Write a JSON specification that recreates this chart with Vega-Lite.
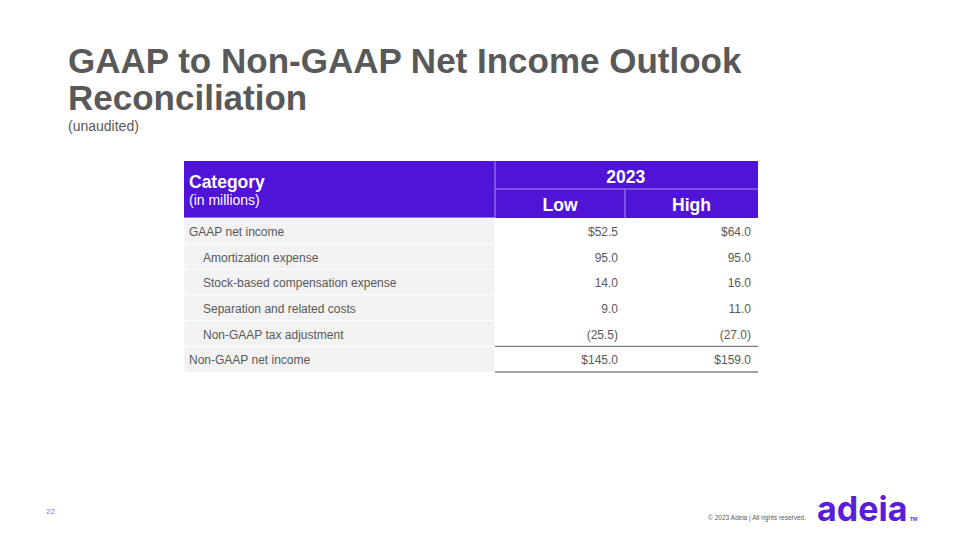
{
  "$schema": "https://vega.github.io/schema/vega-lite/v6.json",
  "width": 960,
  "height": 540,
  "autosize": "none",
  "padding": 0,
  "background": "white",
  "config": {"view": {"stroke": null}, "font": "Liberation Sans"},
  "title": {
    "text": ["GAAP to Non-GAAP Net Income Outlook", "Reconciliation"],
    "subtitle": "(unaudited)",
    "anchor": "start",
    "frame": "group",
    "orient": "top",
    "offset": -134,
    "dx": 68,
    "font": "Liberation Sans",
    "fontSize": 35,
    "fontWeight": "bold",
    "color": "#595959",
    "lineHeight": 37,
    "subtitleFont": "Liberation Sans",
    "subtitleFontSize": 14,
    "subtitleColor": "#595959",
    "subtitlePadding": 3
  },
  "datasets": {
    "rows": [
      {"category": "GAAP net income", "type": "base", "Low": 52.5, "High": 64.0},
      {"category": "Amortization expense", "type": "adjustment", "Low": 95.0, "High": 95.0},
      {"category": "Stock-based compensation expense", "type": "adjustment", "Low": 14.0, "High": 16.0},
      {"category": "Separation and related costs", "type": "adjustment", "Low": 9.0, "High": 11.0},
      {"category": "Non-GAAP tax adjustment", "type": "adjustment", "Low": -25.5, "High": -27.0},
      {"category": "Non-GAAP net income", "type": "total", "Low": 145.0, "High": 159.0}
    ],
    "header": [
      {"label": "Category", "note": "(in millions)", "col0": 0, "col1": 1, "row0": 0, "row1": 2},
      {"label": "2023", "col0": 1, "col1": 3, "row0": 0, "row1": 1},
      {"label": "Low", "col0": 1, "col1": 2, "row0": 1, "row1": 2},
      {"label": "High", "col0": 2, "col1": 3, "row0": 1, "row1": 2}
    ],
    "footer": [
      {"item": "page", "text": "22"},
      {"item": "copyright", "text": "© 2023 Adeia | All rights reserved."},
      {"item": "logo", "text": "adeia"},
      {"item": "tm", "text": "TM"}
    ]
  },
  "resolve": {"scale": {"x": "independent", "y": "independent"}},
  "layer": [
    {
      "data": {"name": "header"},
      "mark": {"type": "rect", "fill": "#5014D6"},
      "encoding": {
        "x": {"field": "col0", "type": "quantitative", "axis": null, "scale": {"domain": [0, 1, 2, 3], "range": [184, 495, 625, 758], "zero": false, "nice": false}},
        "x2": {"field": "col1"},
        "y": {"field": "row0", "type": "quantitative", "axis": null, "scale": {"domain": [0, 1, 2], "range": [161, 189, 218], "zero": false, "nice": false}},
        "y2": {"field": "row1"}
      }
    },
    {
      "data": {"name": "header"},
      "transform": [{"filter": "datum.col0 > 0"}],
      "mark": {"type": "rule", "color": "#A68CF0", "strokeWidth": 1},
      "encoding": {
        "x": {"field": "col0", "type": "quantitative", "axis": null, "scale": {"domain": [0, 1, 2, 3], "range": [184, 495, 625, 758], "zero": false, "nice": false}},
        "y": {"field": "row0", "type": "quantitative", "axis": null, "scale": {"domain": [0, 1, 2], "range": [161, 189, 218], "zero": false, "nice": false}},
        "y2": {"field": "row1"}
      }
    },
    {
      "data": {"name": "header"},
      "transform": [{"filter": "datum.row0 > 0"}],
      "mark": {"type": "rule", "color": "#A68CF0", "strokeWidth": 1},
      "encoding": {
        "x": {"field": "col0", "type": "quantitative", "axis": null, "scale": {"domain": [0, 1, 2, 3], "range": [184, 495, 625, 758], "zero": false, "nice": false}},
        "x2": {"field": "col1"},
        "y": {"field": "row0", "type": "quantitative", "axis": null, "scale": {"domain": [0, 1, 2], "range": [161, 189, 218], "zero": false, "nice": false}}
      }
    },
    {
      "data": {"name": "header"},
      "transform": [{"filter": "datum.col0 == 0"}],
      "mark": {"type": "text", "align": "left", "baseline": "alphabetic", "dx": 5, "dy": 27, "fontSize": 17.5, "fontWeight": "bold", "color": "#FFFFFF"},
      "encoding": {
        "x": {"field": "col0", "type": "quantitative", "axis": null, "scale": {"domain": [0, 1, 2, 3], "range": [184, 495, 625, 758], "zero": false, "nice": false}},
        "y": {"field": "row0", "type": "quantitative", "axis": null, "scale": {"domain": [0, 1, 2], "range": [161, 189, 218], "zero": false, "nice": false}},
        "text": {"field": "label"}
      }
    },
    {
      "data": {"name": "header"},
      "transform": [{"filter": "datum.col0 == 0"}],
      "mark": {"type": "text", "align": "left", "baseline": "alphabetic", "dx": 5, "dy": 44, "fontSize": 14, "color": "#FFFFFF"},
      "encoding": {
        "x": {"field": "col0", "type": "quantitative", "axis": null, "scale": {"domain": [0, 1, 2, 3], "range": [184, 495, 625, 758], "zero": false, "nice": false}},
        "y": {"field": "row0", "type": "quantitative", "axis": null, "scale": {"domain": [0, 1, 2], "range": [161, 189, 218], "zero": false, "nice": false}},
        "text": {"field": "note"}
      }
    },
    {
      "data": {"name": "header"},
      "transform": [{"filter": "datum.col0 > 0"}],
      "mark": {"type": "text", "align": "center", "baseline": "alphabetic", "dy": 21.5, "fontSize": 17.5, "fontWeight": "bold", "color": "#FFFFFF"},
      "encoding": {
        "x": {"field": "label", "type": "nominal", "axis": null, "scale": {"type": "point", "domain": ["Low", "2023", "High"], "range": [560, 691.5], "padding": 0}},
        "y": {"field": "row0", "type": "quantitative", "axis": null, "scale": {"domain": [0, 1, 2], "range": [161, 189, 218], "zero": false, "nice": false}},
        "text": {"field": "label"}
      }
    },
    {
      "data": {"name": "rows"},
      "mark": {"type": "rect", "fill": "#F2F2F2", "stroke": "#FFFFFF", "strokeWidth": 0.8},
      "encoding": {
        "x": {"datum": 0, "type": "quantitative", "axis": null, "scale": {"domain": [0, 1, 2, 3], "range": [184, 495, 625, 758], "zero": false, "nice": false}},
        "x2": {"datum": 1},
        "y": {"field": "category", "type": "nominal", "axis": null, "sort": null, "scale": {"type": "band", "domain": ["GAAP net income", "Amortization expense", "Stock-based compensation expense", "Separation and related costs", "Non-GAAP tax adjustment", "Non-GAAP net income"], "range": [218, 372], "paddingInner": 0, "paddingOuter": 0}}
      }
    },
    {
      "data": {"name": "rows"},
      "transform": [{"filter": "datum.type != 'adjustment'"}],
      "mark": {"type": "text", "align": "left", "baseline": "middle", "dx": 5, "dy": 1, "fontSize": 12, "color": "#595959"},
      "encoding": {
        "x": {"datum": 0, "type": "quantitative", "axis": null, "scale": {"domain": [0, 1, 2, 3], "range": [184, 495, 625, 758], "zero": false, "nice": false}},
        "y": {"field": "category", "type": "nominal", "axis": null, "sort": null, "scale": {"type": "band", "domain": ["GAAP net income", "Amortization expense", "Stock-based compensation expense", "Separation and related costs", "Non-GAAP tax adjustment", "Non-GAAP net income"], "range": [218, 372], "paddingInner": 0, "paddingOuter": 0}},
        "text": {"field": "category"}
      }
    },
    {
      "data": {"name": "rows"},
      "transform": [{"filter": "datum.type == 'adjustment'"}],
      "mark": {"type": "text", "align": "left", "baseline": "middle", "dx": 19, "dy": 1, "fontSize": 12, "color": "#595959"},
      "encoding": {
        "x": {"datum": 0, "type": "quantitative", "axis": null, "scale": {"domain": [0, 1, 2, 3], "range": [184, 495, 625, 758], "zero": false, "nice": false}},
        "y": {"field": "category", "type": "nominal", "axis": null, "sort": null, "scale": {"type": "band", "domain": ["GAAP net income", "Amortization expense", "Stock-based compensation expense", "Separation and related costs", "Non-GAAP tax adjustment", "Non-GAAP net income"], "range": [218, 372], "paddingInner": 0, "paddingOuter": 0}},
        "text": {"field": "category"}
      }
    },
    {
      "data": {"name": "rows"},
      "transform": [{"filter": "datum.type == 'adjustment'"}, {"fold": ["Low", "High"], "as": ["column", "value"]}],
      "mark": {"type": "text", "align": "right", "baseline": "middle", "dy": 1, "fontSize": 12, "color": "#595959"},
      "encoding": {
        "x": {"field": "column", "type": "nominal", "axis": null, "scale": {"type": "point", "domain": ["Low", "High"], "range": [618, 751], "padding": 0}},
        "y": {"field": "category", "type": "nominal", "axis": null, "sort": null, "scale": {"type": "band", "domain": ["GAAP net income", "Amortization expense", "Stock-based compensation expense", "Separation and related costs", "Non-GAAP tax adjustment", "Non-GAAP net income"], "range": [218, 372], "paddingInner": 0, "paddingOuter": 0}},
        "text": {"field": "value", "type": "quantitative", "format": "(.1f"}
      }
    },
    {
      "data": {"name": "rows"},
      "transform": [{"filter": "datum.type != 'adjustment'"}, {"fold": ["Low", "High"], "as": ["column", "value"]}],
      "mark": {"type": "text", "align": "right", "baseline": "middle", "dy": 1, "fontSize": 12, "color": "#595959"},
      "encoding": {
        "x": {"field": "column", "type": "nominal", "axis": null, "scale": {"type": "point", "domain": ["Low", "High"], "range": [618, 751], "padding": 0}},
        "y": {"field": "category", "type": "nominal", "axis": null, "sort": null, "scale": {"type": "band", "domain": ["GAAP net income", "Amortization expense", "Stock-based compensation expense", "Separation and related costs", "Non-GAAP tax adjustment", "Non-GAAP net income"], "range": [218, 372], "paddingInner": 0, "paddingOuter": 0}},
        "text": {"field": "value", "type": "quantitative", "format": "$.1f"}
      }
    },
    {
      "data": {"name": "rows"},
      "transform": [{"filter": "datum.type == 'total'"}],
      "mark": {"type": "rule", "color": "#7A7A7A", "strokeWidth": 1.3},
      "encoding": {
        "x": {"datum": 1, "type": "quantitative", "axis": null, "scale": {"domain": [0, 1, 2, 3], "range": [184, 495, 625, 758], "zero": false, "nice": false}},
        "x2": {"datum": 3},
        "y": {"field": "category", "type": "nominal", "axis": null, "bandPosition": 0, "sort": null, "scale": {"type": "band", "domain": ["GAAP net income", "Amortization expense", "Stock-based compensation expense", "Separation and related costs", "Non-GAAP tax adjustment", "Non-GAAP net income"], "range": [218, 372], "paddingInner": 0, "paddingOuter": 0}}
      }
    },
    {
      "data": {"name": "rows"},
      "transform": [{"filter": "datum.type == 'total'"}],
      "mark": {"type": "rule", "color": "#A6A6A6", "strokeWidth": 2},
      "encoding": {
        "x": {"datum": 1, "type": "quantitative", "axis": null, "scale": {"domain": [0, 1, 2, 3], "range": [184, 495, 625, 758], "zero": false, "nice": false}},
        "x2": {"datum": 3},
        "y": {"field": "category", "type": "nominal", "axis": null, "bandPosition": 1, "sort": null, "scale": {"type": "band", "domain": ["GAAP net income", "Amortization expense", "Stock-based compensation expense", "Separation and related costs", "Non-GAAP tax adjustment", "Non-GAAP net income"], "range": [218, 372], "paddingInner": 0, "paddingOuter": 0}}
      }
    },
    {
      "data": {"name": "footer"},
      "transform": [{"filter": "datum.item == 'page'"}],
      "mark": {"type": "text", "align": "left", "baseline": "alphabetic", "fontSize": 8, "color": "#8A6CF0"},
      "encoding": {
        "x": {"field": "item", "type": "nominal", "axis": null, "scale": {"type": "point", "domain": ["page"], "range": [46, 46]}},
        "y": {"field": "item", "type": "nominal", "axis": null, "scale": {"type": "point", "domain": ["page"], "range": [514, 514]}},
        "text": {"field": "text"}
      }
    },
    {
      "data": {"name": "footer"},
      "transform": [{"filter": "datum.item == 'copyright'"}],
      "mark": {"type": "text", "align": "right", "baseline": "alphabetic", "fontSize": 6.5, "color": "#595959"},
      "encoding": {
        "x": {"field": "item", "type": "nominal", "axis": null, "scale": {"type": "point", "domain": ["copyright"], "range": [806, 806]}},
        "y": {"field": "item", "type": "nominal", "axis": null, "scale": {"type": "point", "domain": ["copyright"], "range": [520, 520]}},
        "text": {"field": "text"}
      }
    },
    {
      "data": {"name": "footer"},
      "transform": [{"filter": "datum.item == 'logo'"}],
      "mark": {"type": "text", "align": "left", "baseline": "alphabetic", "font": "Inter", "fontSize": 34, "fontWeight": "bold", "color": "#5A1EDB"},
      "encoding": {
        "x": {"field": "item", "type": "nominal", "axis": null, "scale": {"type": "point", "domain": ["logo"], "range": [817, 817]}},
        "y": {"field": "item", "type": "nominal", "axis": null, "scale": {"type": "point", "domain": ["logo"], "range": [521, 521]}},
        "text": {"field": "text"}
      }
    },
    {
      "data": {"name": "footer"},
      "transform": [{"filter": "datum.item == 'tm'"}],
      "mark": {"type": "text", "align": "left", "baseline": "alphabetic", "fontSize": 5, "fontWeight": "bold", "color": "#5A1EDB"},
      "encoding": {
        "x": {"field": "item", "type": "nominal", "axis": null, "scale": {"type": "point", "domain": ["tm"], "range": [910, 910]}},
        "y": {"field": "item", "type": "nominal", "axis": null, "scale": {"type": "point", "domain": ["tm"], "range": [521, 521]}},
        "text": {"field": "text"}
      }
    }
  ]
}
